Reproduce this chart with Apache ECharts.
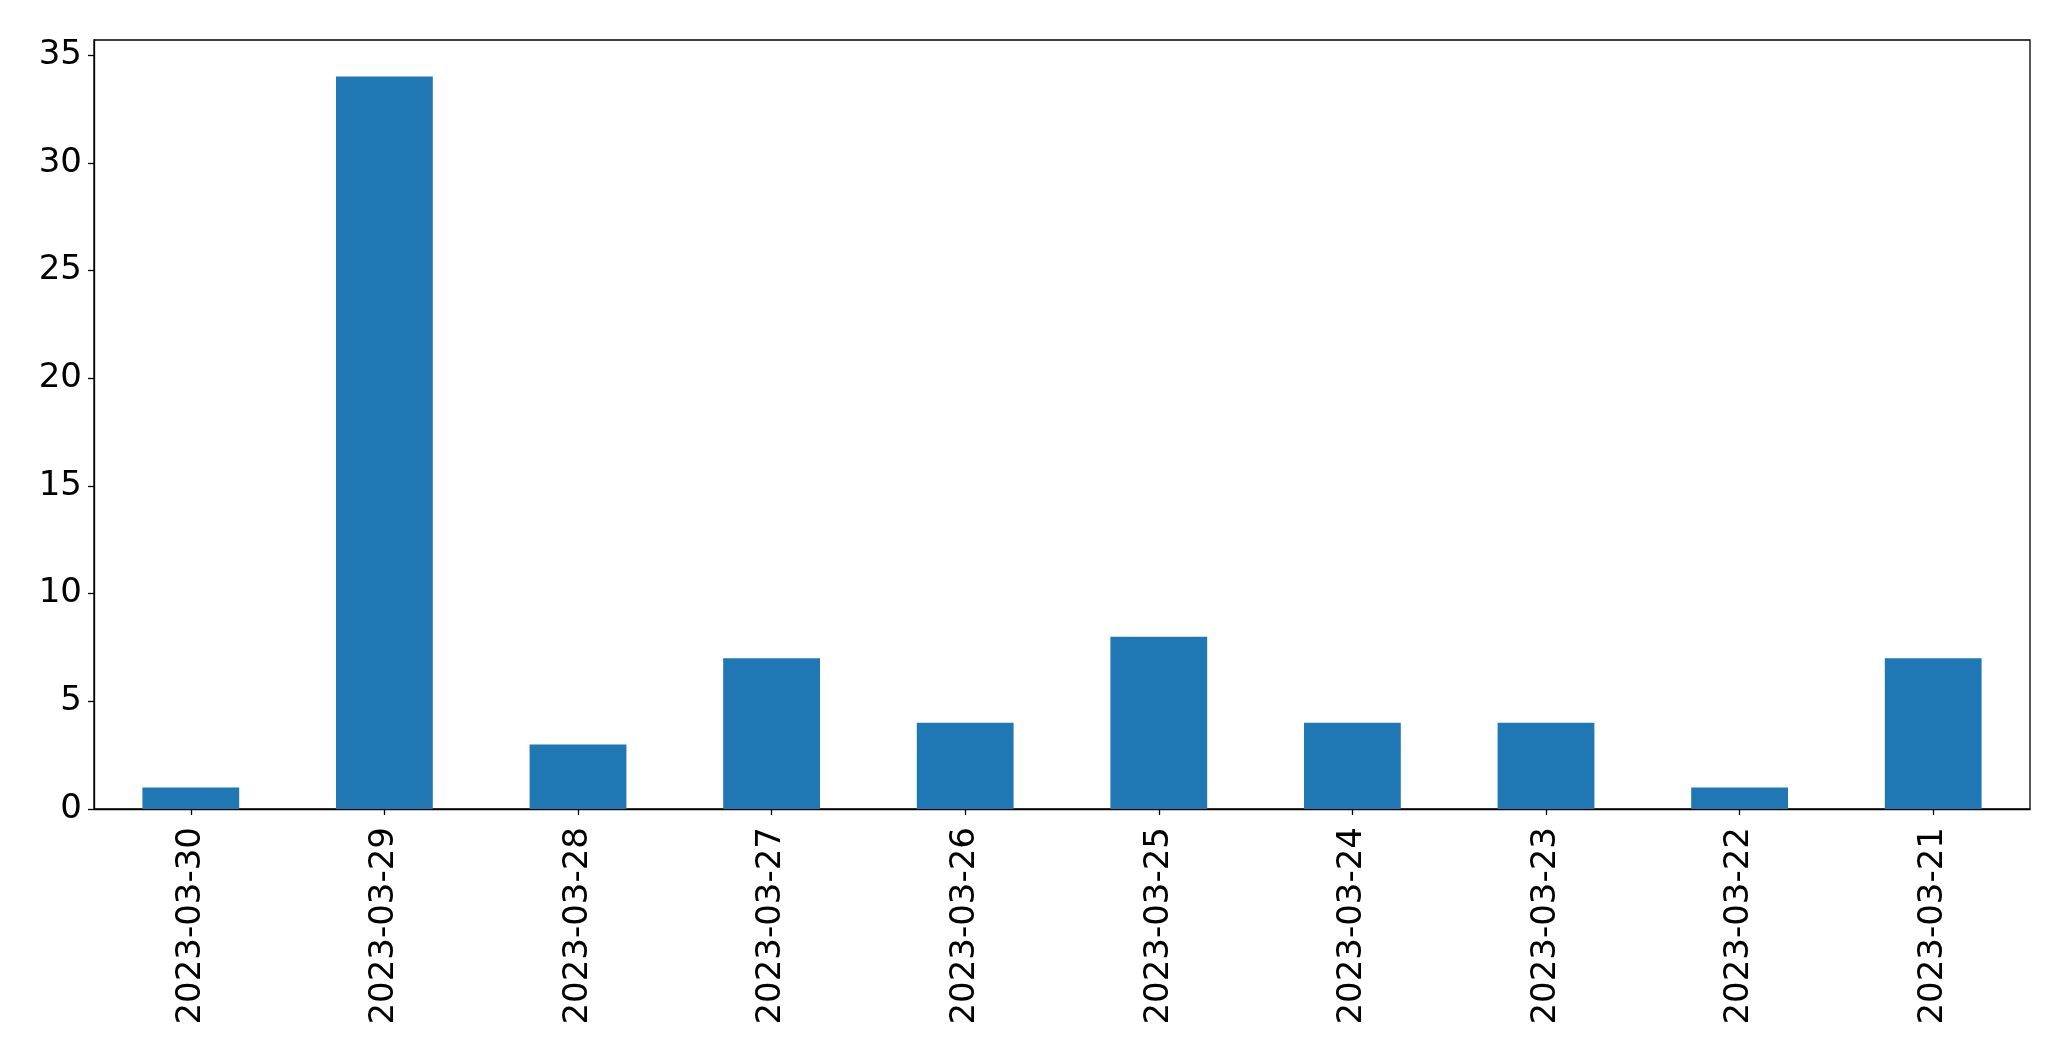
<!DOCTYPE html>
<html>
<head>
<meta charset="utf-8">
<script src="https://cdn.jsdelivr.net/npm/echarts@6/dist/echarts.min.js"></script>
<style>
html,body{margin:0;padding:0;background:#fff;}
#chart{width:2071px;height:1061px;}
</style>
</head>
<body>
<div id="chart"></div>
<script>
const categories = ['2023-03-30','2023-03-29','2023-03-28','2023-03-27','2023-03-26','2023-03-25','2023-03-24','2023-03-23','2023-03-22','2023-03-21'];
const values = [1, 34, 3, 7, 4, 8, 4, 4, 1, 7];
const yTicks = [0, 5, 10, 15, 20, 25, 30, 35];

const chart = echarts.init(document.getElementById('chart'), null, {renderer: 'canvas'});
const font = 'DejaVu Sans';
chart.setOption({
  animation: false,
  backgroundColor: '#ffffff',
  grid: {
    left: 94, right: 41, top: 40, bottom: 252,
    show: true, borderColor: '#000', borderWidth: 1.3, backgroundColor: 'transparent'
  },
  xAxis: {
    type: 'category',
    data: categories,
    axisLine: {show: true, lineStyle: {color: '#000', width: 1.3}},
    axisTick: {show: true, alignWithLabel: true, length: 6, lineStyle: {color: '#000', width: 1.3}},
    axisLabel: {rotate: 90, fontSize: 34, fontFamily: font, color: '#000', margin: 18, interval: 0},
    splitLine: {show: false}
  },
  yAxis: {
    type: 'value',
    min: 0,
    max: 35.7,
    interval: 5,
    axisLine: {show: true, lineStyle: {color: '#000', width: 1.3}},
    axisTick: {show: true, length: 6, lineStyle: {color: '#000', width: 1.3}},
    axisLabel: {
      fontSize: 34, fontFamily: font, color: '#000', margin: 12,
      showMaxLabel: false,
      formatter: function (v) { return yTicks.indexOf(v) >= 0 ? String(v) : ''; }
    },
    splitLine: {show: false}
  },
  series: [{
    type: 'bar',
    data: values,
    barWidth: '50%',
    itemStyle: {color: '#1f77b4'}
  }]
});
</script>
</body>
</html>
